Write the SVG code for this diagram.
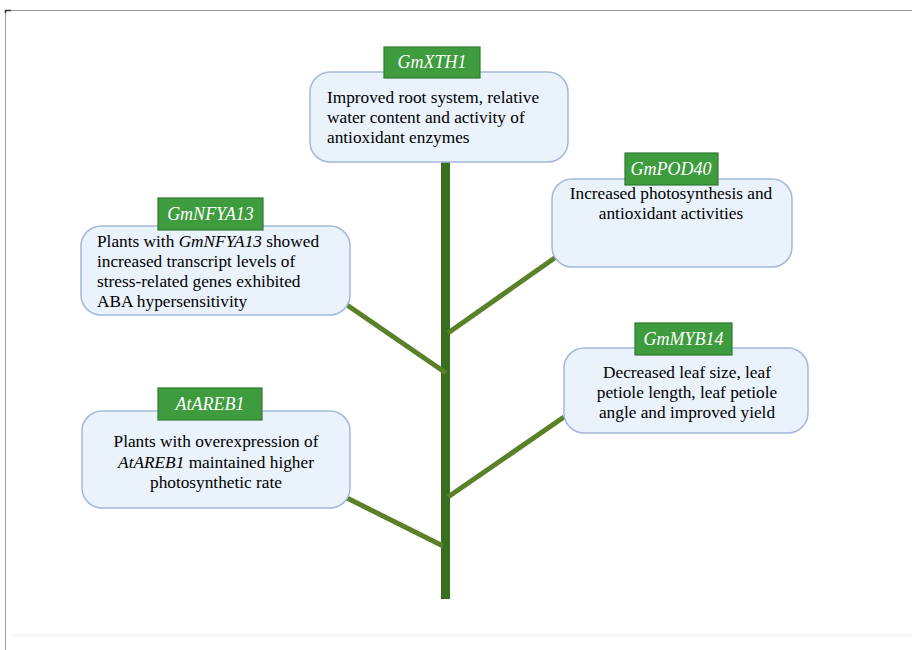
<svg xmlns="http://www.w3.org/2000/svg" width="912" height="650" viewBox="0 0 912 650">
<style>
.box{fill:#EAF2FC;stroke:#A3B8DC;stroke-width:1.5}
.tag{fill:#3E9B3E;stroke:#2F7A2F;stroke-width:1.2}
.tt{font-family:"Liberation Serif",serif;font-style:italic;font-size:18px;fill:#fff;text-anchor:middle}
.bt{font-family:"Liberation Serif",serif;font-size:17.3px;fill:#000}
.c{text-anchor:middle}
.br{stroke:#5B8128;stroke-width:5;fill:none}
</style>
<rect width="912" height="650" fill="#fff"/>
<path d="M5.5 650 V10.5 H912" fill="none" stroke="#999" stroke-width="1"/>
<path d="M5 10.5 H11 M5.5 10 V13" stroke="#333" stroke-width="1.5"/>
<line x1="11" y1="635.5" x2="912" y2="635.5" stroke="#f2f2f2" stroke-width="1.5"/>
<g id="connectors">
<rect x="441" y="160" width="9" height="439" fill="#386E1F"/>
<line class="br" x1="347" y1="305" x2="446" y2="373"/>
<line class="br" x1="556" y1="257" x2="448" y2="333"/>
<line class="br" x1="564" y1="417" x2="448" y2="497"/>
<line class="br" x1="347" y1="498" x2="443" y2="546"/>
</g>
<g id="GmXTH1">
<rect class="box" x="310" y="72" width="258" height="90" rx="20"/>
<rect class="tag" x="384" y="47" width="96" height="31"/>
<text class="tt" x="432" y="68">GmXTH1</text>
<text class="bt" x="327" y="103">Improved root system, relative</text>
<text class="bt" x="327" y="123">water content and activity of</text>
<text class="bt" x="327" y="143">antioxidant enzymes</text>
</g>
<g id="GmPOD40">
<rect class="box" x="552" y="179" width="240" height="88" rx="20"/>
<rect class="tag" x="625" y="153" width="93" height="32"/>
<text class="tt" x="671" y="175">GmPOD40</text>
<text class="bt c" x="671" y="199">Increased photosynthesis and</text>
<text class="bt c" x="671" y="219">antioxidant activities</text>
</g>
<g id="GmNFYA13">
<rect class="box" x="81" y="226" width="269" height="89" rx="20"/>
<rect class="tag" x="158" y="198" width="105" height="32"/>
<text class="tt" x="210.5" y="220">GmNFYA13</text>
<text class="bt" x="97" y="247">Plants with <tspan font-style="italic">GmNFYA13</tspan> showed</text>
<text class="bt" x="97" y="267">increased transcript levels of</text>
<text class="bt" x="97" y="287">stress-related genes exhibited</text>
<text class="bt" x="97" y="307">ABA hypersensitivity</text>
</g>
<g id="GmMYB14">
<rect class="box" x="564" y="348" width="244" height="85" rx="20"/>
<rect class="tag" x="635" y="323" width="97" height="32"/>
<text class="tt" x="683.5" y="345">GmMYB14</text>
<text class="bt c" x="687" y="378">Decreased leaf size, leaf</text>
<text class="bt c" x="687" y="398">petiole length, leaf petiole</text>
<text class="bt c" x="687" y="418">angle and improved yield</text>
</g>
<g id="AtAREB1">
<rect class="box" x="82" y="411" width="268" height="97" rx="20"/>
<rect class="tag" x="158" y="388" width="104" height="32"/>
<text class="tt" x="210" y="410">AtAREB1</text>
<text class="bt c" x="216" y="447">Plants with overexpression of</text>
<text class="bt c" x="216" y="468"><tspan font-style="italic">AtAREB1</tspan> maintained higher</text>
<text class="bt c" x="216" y="488">photosynthetic rate</text>
</g>
</svg>
